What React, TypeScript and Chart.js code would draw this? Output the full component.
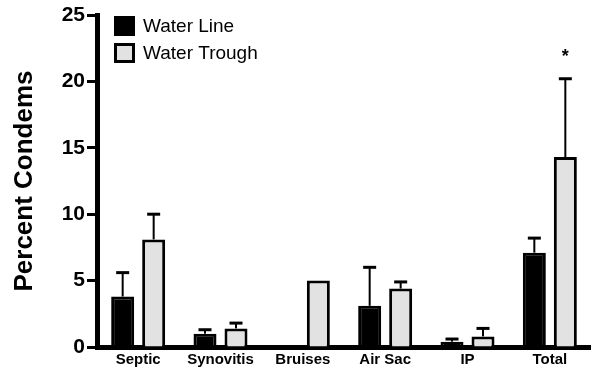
import React, { useEffect, useRef } from "react";
import { Chart, registerables } from "chart.js";

Chart.register(...registerables);

const categories = ["Septic", "Synovitis", "Bruises", "Air Sac", "IP", "Total"];
const seriesNames = ["Water Line", "Water Trough"];
const waterLine = [3.8, 1.0, 0, 3.1, 0.4, 7.1];
const waterLineErr = [1.8, 0.3, 0, 2.9, 0.2, 1.1];
const waterTrough = [8.1, 1.4, 5.0, 4.4, 0.8, 14.3];
const waterTroughErr = [1.9, 0.4, 0, 0.5, 0.6, 5.9];
const significance = ["", "", "", "", "", "*"];
const yMin = 0;
const yMax = 25;
const yStep = 5;
const yTitle = "Percent Condems";

const FONT = "'Liberation Sans', Arial, Helvetica, sans-serif";
const GREY = "#e2e2e2";

const errorBarPlugin = {
  id: "errorBars",
  afterDatasetsDraw(chart: any) {
    const ctx = chart.ctx;
    const yScale = chart.scales.y;
    ctx.save();
    ctx.strokeStyle = "#000";
    chart.data.datasets.forEach((ds: any, di: number) => {
      const meta = chart.getDatasetMeta(di);
      meta.data.forEach((bar: any, i: number) => {
        const err = ds.errors ? ds.errors[i] : 0;
        if (!err) return;
        const v = ds.data[i];
        const yTop = yScale.getPixelForValue(v + err);
        const yBase = bar.y;
        ctx.lineWidth = 2;
        ctx.beginPath();
        ctx.moveTo(bar.x, yBase);
        ctx.lineTo(bar.x, yTop);
        ctx.stroke();
        ctx.lineWidth = 3;
        ctx.beginPath();
        ctx.moveTo(bar.x - 6.5, yTop);
        ctx.lineTo(bar.x + 6.5, yTop);
        ctx.stroke();
      });
    });
    // significance marks above the second series
    const meta1 = chart.getDatasetMeta(1);
    const ds1 = chart.data.datasets[1];
    significance.forEach((s, i) => {
      if (!s) return;
      const bar: any = meta1.data[i];
      const top = yScale.getPixelForValue(ds1.data[i] + (ds1.errors[i] || 0));
      ctx.fillStyle = "#000";
      ctx.font = `bold 18px ${FONT}`;
      ctx.textAlign = "center";
      ctx.textBaseline = "alphabetic";
      ctx.fillText(s, bar.x, top - 17);
    });
    ctx.restore();
  },
};

const legendPlugin = {
  id: "customLegend",
  afterDraw(chart: any) {
    const ctx = chart.ctx;
    const area = chart.chartArea;
    ctx.save();
    const x0 = area.left + 17;
    const y0 = area.top + 1;
    const rowH = 27;
    chart.data.datasets.forEach((ds: any, i: number) => {
      const y = y0 + i * rowH;
      ctx.fillStyle = "#000";
      ctx.fillRect(x0, y, 21, 20);
      if (ds.backgroundColor !== "#000") {
        ctx.fillStyle = ds.backgroundColor;
        ctx.fillRect(x0 + 3, y + 3, 15, 14);
      }
      ctx.fillStyle = "#000";
      ctx.font = `19px ${FONT}`;
      ctx.textAlign = "left";
      ctx.textBaseline = "middle";
      ctx.fillText(ds.label, x0 + 29, y + 10.5);
    });
    ctx.restore();
  },
};

export default function App() {
  const ref = useRef<HTMLCanvasElement | null>(null);

  useEffect(() => {
    if (!ref.current) return;
    const chart = new Chart(ref.current, {
      type: "bar",
      data: {
        labels: categories,
        datasets: [
          {
            label: seriesNames[0],
            data: waterLine,
            errors: waterLineErr,
            backgroundColor: "#000",
            borderColor: "#000",
            borderWidth: 3,
            categoryPercentage: 0.753,
            barPercentage: 0.742,
          } as any,
          {
            label: seriesNames[1],
            data: waterTrough,
            errors: waterTroughErr,
            backgroundColor: GREY,
            borderColor: "#000",
            borderWidth: 3,
            categoryPercentage: 0.753,
            barPercentage: 0.742,
          } as any,
        ],
      },
      options: {
        responsive: false,
        animation: false,
        devicePixelRatio: 1,
        layout: { padding: { top: 15, right: 0, left: 0, bottom: 0 } },
        plugins: {
          legend: { display: false },
          tooltip: { enabled: false },
        },
        scales: {
          x: {
            grid: { display: false, drawTicks: false },
            border: { display: true, color: "#000", width: 5 },
            ticks: {
              color: "#000",
              padding: 4,
              font: { family: FONT, size: 15, weight: "bold" },
            },
            afterFit(scale: any) {
              scale.height = 25;
            },
          },
          y: {
            min: yMin,
            max: yMax,
            ticks: {
              stepSize: yStep,
              color: "#000",
              padding: 2,
              font: { family: FONT, size: 21, weight: "bold" },
            },
            grid: {
              display: true,
              drawOnChartArea: false,
              drawTicks: true,
              tickLength: 10,
              tickWidth: 3,
              tickColor: "#000",
              color: "#000",
            },
            border: { display: true, color: "#000", width: 5 },
            title: {
              display: true,
              text: yTitle,
              color: "#000",
              font: { family: FONT, size: 26, weight: "bold" },
              padding: { top: 9, bottom: 0 },
            },
            afterFit(scale: any) {
              scale.width = 97;
            },
          },
        },
      },
      plugins: [errorBarPlugin, legendPlugin],
    });
    return () => chart.destroy();
  }, []);

  return (
    <div style={{ position: "fixed", left: 0, top: 0, width: 591, height: 372, background: "#fff" }}>
      <canvas ref={ref} width={591} height={372} style={{ width: 591, height: 372, display: "block" }} />
    </div>
  );
}
